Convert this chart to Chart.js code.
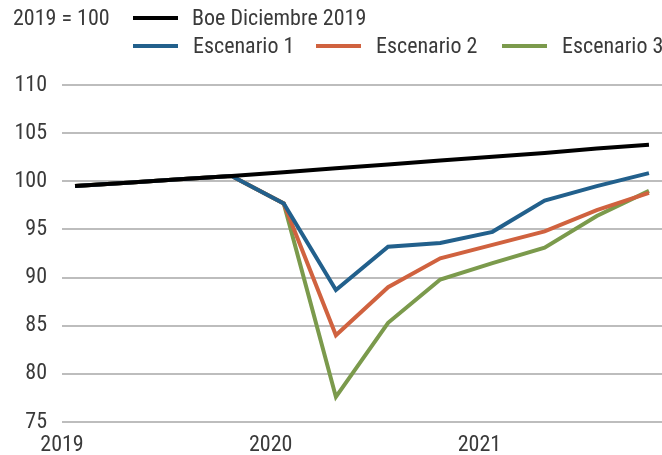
<!DOCTYPE html>
<html lang="es">
<head>
<meta charset="UTF-8">
<title>Escenarios PIB</title>
<script src="https://cdn.jsdelivr.net/npm/chart.js"></script>
<style>
  body { margin: 0; background: #fff; }
  #wrap { position: relative; width: 662px; height: 455px; }
  #legend { position: absolute; left: 0; top: 0; width: 662px; height: 70px;
            font-family: 'Liberation Sans Narrow', 'Roboto Condensed', 'DejaVu Sans Condensed', sans-serif;
            font-size: 22px; color: #3a3a3a; }
  #legend span { position: absolute; white-space: nowrap; line-height: 22px; }
  #legend i { position: absolute; height: 4px; }
</style>
</head>
<body>
<div id="wrap">
  <canvas id="chart" width="662" height="455"></canvas>
  <div id="legend"></div>
</div>
<script>
// quarterly data, 2019 = 100
const quarters = ['2019T1', '2019T2', '2019T3', '2019T4', '2020T1', '2020T2', '2020T3', '2020T4', '2021T1', '2021T2', '2021T3', '2021T4'];
const boe = [99.5, 99.85, 100.2, 100.55, 100.95, 101.35, 101.75, 102.15, 102.55, 102.95, 103.4, 103.8];
const esc1 = [99.5, 99.85, 100.2, 100.55, 97.7, 88.7, 93.2, 93.6, 94.75, 98.0, 99.5, 100.85];
const esc2 = [99.5, 99.85, 100.2, 100.55, 97.7, 84.0, 89.0, 92.0, 93.4, 94.8, 97.0, 98.8];
const esc3 = [99.5, 99.85, 100.2, 100.55, 97.7, 77.6, 85.3, 89.8, 91.5, 93.1, 96.4, 99.0];
const yearLabels = ['2019', '2020', '2021'];
const yearTickPos = [-0.25, 3.75, 7.75];

const seriesNames = ['Boe Diciembre 2019', 'Escenario 1', 'Escenario 2', 'Escenario 3'];
const seriesColors = ['#000000', '#22608c', '#d0623f', '#7b9a4c'];
const seriesData = [boe, esc1, esc2, esc3];

const FONT = "'Liberation Sans Narrow', 'Roboto Condensed', 'DejaVu Sans Condensed', sans-serif";
const TEXT = '#3a3a3a';

// legend (two rows, like the original)
const legendPos = [
  { line: [133, 178], text: 192, row: 18 },
  { line: [133, 178], text: 193, row: 46 },
  { line: [316, 361], text: 376, row: 46 },
  { line: [502, 547], text: 562, row: 46 }
];
const legend = document.getElementById('legend');
const note = document.createElement('span');
note.textContent = '2019 = 100';
note.style.left = '13px';
note.style.top = (18 - 11) + 'px';
legend.appendChild(note);
seriesNames.forEach((name, i) => {
  const p = legendPos[i];
  const bar = document.createElement('i');
  bar.style.left = p.line[0] + 'px';
  bar.style.width = (p.line[1] - p.line[0]) + 'px';
  bar.style.top = (p.row - 2) + 'px';
  bar.style.background = seriesColors[i];
  legend.appendChild(bar);
  const t = document.createElement('span');
  t.textContent = name;
  t.style.left = p.text + 'px';
  t.style.top = (p.row - 11) + 'px';
  legend.appendChild(t);
});

new Chart(document.getElementById('chart'), {
  type: 'line',
  data: {
    datasets: seriesData.map((vals, i) => ({
      label: seriesNames[i],
      data: vals.map((v, k) => ({ x: k, y: v })),
      borderColor: seriesColors[i],
      borderWidth: 4,
      pointRadius: 0,
      tension: 0,
      order: i === 0 ? 0 : 1
    }))
  },
  options: {
    responsive: false,
    animation: false,
    layout: { padding: { top: 85, right: 0, left: 0, bottom: 0 } },
    plugins: { legend: { display: false }, tooltip: { enabled: false } },
    scales: {
      x: {
        type: 'linear',
        min: -0.25,
        max: 11.25,
        grid: { display: false },
        border: { display: false },
        afterBuildTicks: s => { s.ticks = yearTickPos.map(v => ({ value: v })); },
        afterFit: s => { s.height = 33; },
        ticks: {
          autoSkip: false,
          maxRotation: 0,
          padding: 2,
          color: TEXT,
          font: { family: FONT, size: 22 },
          callback: (v, i) => yearLabels[i]
        }
      },
      y: {
        min: 75,
        max: 110,
        grid: { color: '#bdbdbd', lineWidth: 2, drawTicks: false },
        border: { display: false },
        afterFit: s => { s.width = 62; },
        ticks: {
          stepSize: 5,
          padding: 15,
          color: TEXT,
          font: { family: FONT, size: 22 }
        }
      }
    }
  }
});
</script>
</body>
</html>
